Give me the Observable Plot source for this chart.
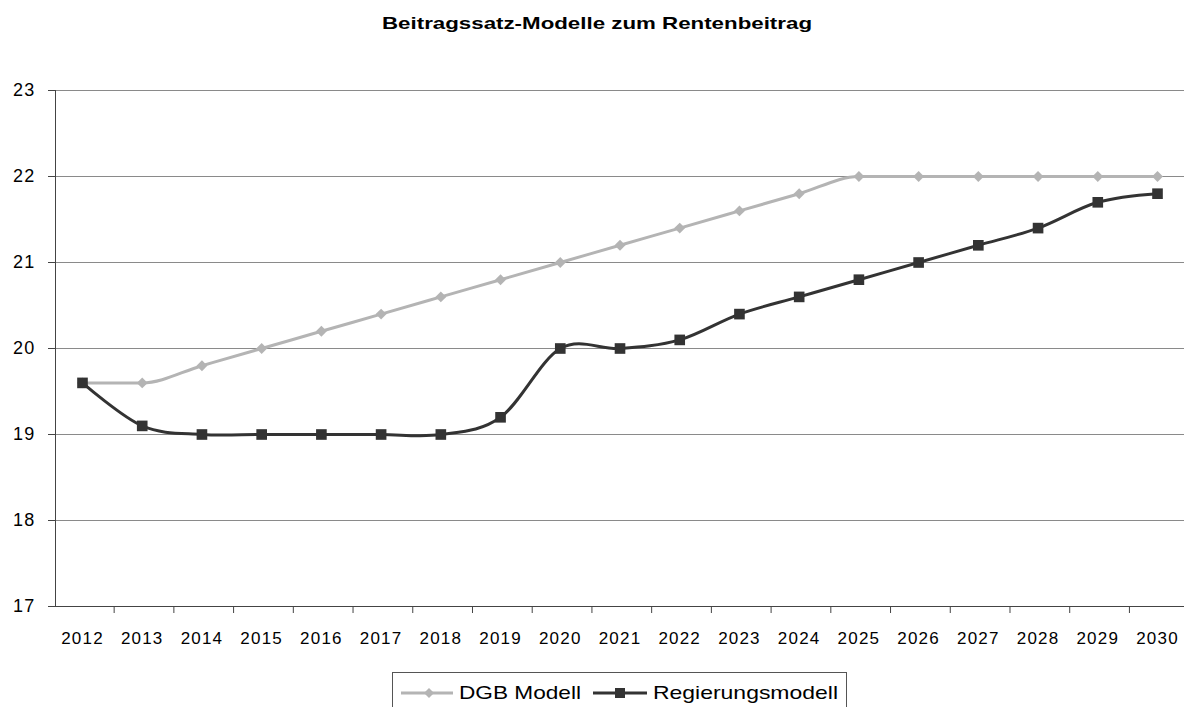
<!DOCTYPE html>
<html>
<head>
<meta charset="utf-8">
<script src="https://cdn.jsdelivr.net/npm/d3@7"></script>
<script src="https://cdn.jsdelivr.net/npm/@observablehq/plot@0.6"></script>
<style>
  html, body { margin: 0; padding: 0; background: #fff; }
  #wrap { position: relative; width: 1184px; height: 707px; overflow: hidden; background: #fff; font-family: "Liberation Sans", Arial, sans-serif; }
  #title { position: absolute; left: 0; top: 0; width: 1184px; height: 55px; }
  #chart { position: absolute; left: 0; top: 55px; }
  .stretch { position: absolute; white-space: nowrap; line-height: 1; transform-origin: 0 0; color: #000; }
  #legend { position: absolute; left: 392px; top: 672px; width: 453px; height: 44px; border: 1px solid #555; background: #fff; }
  #legend svg { position: absolute; left: 0; top: 0; }
</style>
</head>
<body>
<div id="wrap">
  <div id="title"><span class="stretch" id="titleText" style="font-weight:bold;font-size:17px">Beitragssatz-Modelle zum Rentenbeitrag</span></div>
  <div id="chart"></div>
  <div id="legend">
    <svg width="453" height="44">
      <line x1="8" x2="60" y1="20" y2="20" stroke="#b4b4b4" stroke-width="3"/>
      <path d="M36,15 L41,20 L36,25 L31,20 Z" fill="#b4b4b4"/>
      <line x1="200" x2="254" y1="20" y2="20" stroke="#333" stroke-width="3"/>
      <rect x="222" y="15" width="10" height="10" fill="#333"/>
    </svg>
    <span class="stretch" id="leg1" style="font-size:19px">DGB Modell</span>
    <span class="stretch" id="leg2" style="font-size:19px">Regierungsmodell</span>
  </div>
</div>
<script>
const years = [2012, 2013, 2014, 2015, 2016, 2017, 2018, 2019, 2020, 2021, 2022, 2023, 2024, 2025, 2026, 2027, 2028, 2029, 2030];
const dgbModell = [19.6, 19.6, 19.8, 20.0, 20.2, 20.4, 20.6, 20.8, 21.0, 21.2, 21.4, 21.6, 21.8, 22.0, 22.0, 22.0, 22.0, 22.0, 22.0];
const regierungsmodell = [19.6, 19.1, 19.0, 19.0, 19.0, 19.0, 19.0, 19.2, 20.0, 20.0, 20.1, 20.4, 20.6, 20.8, 21.0, 21.2, 21.4, 21.7, 21.8];
const yTicks = [17, 18, 19, 20, 21, 22, 23];
const seriesNames = ["DGB Modell", "Regierungsmodell"];

const rows = [
  ...years.map((year, i) => ({year, value: dgbModell[i], series: seriesNames[0]})),
  ...years.map((year, i) => ({year, value: regierungsmodell[i], series: seriesNames[1]}))
];
const dgbRows = rows.filter(d => d.series === seriesNames[0]);
const regRows = rows.filter(d => d.series === seriesNames[1]);
const xMin = 2011.548, xMax = 2030.452;
const betweenTicks = years.slice(0, -1).map(y => y + 0.53);

const chart = Plot.plot({
  width: 1184,
  height: 600,
  marginTop: 35,
  marginBottom: 49,
  marginLeft: 55,
  marginRight: 0,
  x: {domain: [xMin, xMax]},
  y: {domain: [17, 23]},
  style: {fontFamily: "'Liberation Sans', Arial, sans-serif", background: "white", color: "#000", overflow: "visible"},
  marks: [
    Plot.gridY(yTicks.slice(1), {stroke: "#8a8a8a", strokeOpacity: 1, strokeWidth: 1}),
    Plot.axisY({ticks: yTicks, tickSize: 7, tickPadding: 13, fontSize: 18, tickFormat: d => String(d), stroke: "#444", label: null}),
    Plot.axisX({ticks: years, tickSize: 0, tickPadding: 25, fontSize: 17, tickFormat: d => String(d), label: null}),
    Plot.axisX({ticks: betweenTicks, tickSize: 7, tickFormat: () => "", stroke: "#444", label: null}),
    Plot.ruleX([xMin], {stroke: "#444", strokeWidth: 1}),
    Plot.ruleY([17], {stroke: "#444", strokeWidth: 1}),
    Plot.line(dgbRows, {x: "year", y: "value", stroke: "#b4b4b4", strokeWidth: 3, curve: "monotone-x"}),
    Plot.dot(dgbRows, {x: "year", y: "value", symbol: "diamond2", r: 4.9, fill: "#b4b4b4", stroke: "none"}),
    Plot.line(regRows, {x: "year", y: "value", stroke: "#333333", strokeWidth: 3, curve: "cardinal"}),
    Plot.dot(regRows, {x: "year", y: "value", symbol: "square", r: 6.0, fill: "#333333", stroke: "none"})
  ]
});
document.getElementById("chart").appendChild(chart);
chart.querySelectorAll("text").forEach(t => t.setAttribute("letter-spacing", "1.2"));

function place(id, left, baseline, width) {
  const el = document.getElementById(id);
  const fs = parseFloat(el.style.fontSize);
  const w = el.getBoundingClientRect().width;
  const base = fs * (0.905 - 0.0585);
  el.style.left = left + "px";
  el.style.top = (baseline - base) + "px";
  el.style.transform = `scaleX(${width / w})`;
}
place("titleText", 382, 29, 430);
place("leg1", 459 - 393, 699 - 673, 122);
place("leg2", 653 - 393, 699 - 673, 185);
</script>
</body>
</html>
